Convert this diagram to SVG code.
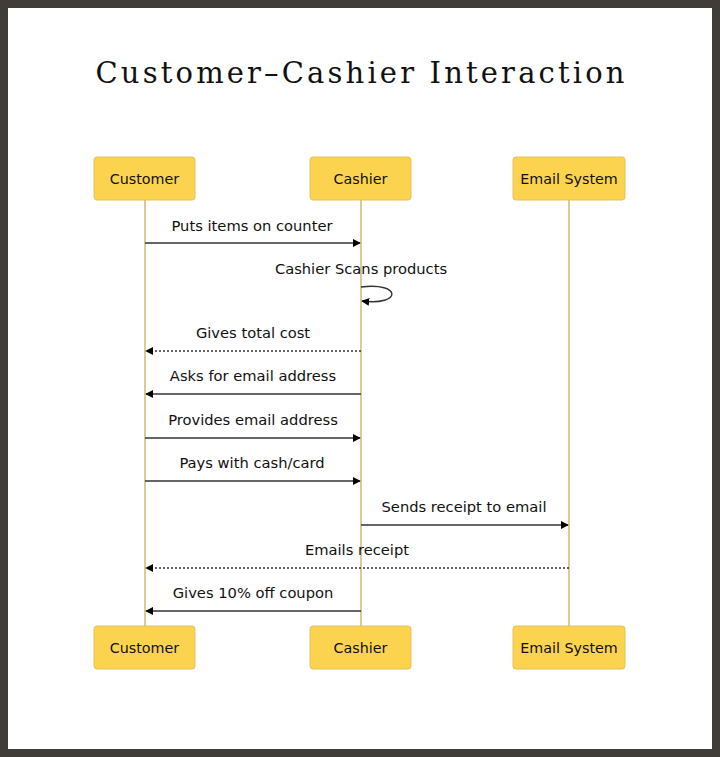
<svg xmlns="http://www.w3.org/2000/svg" width="720" height="757" viewBox="0 0 720 757">
<style>
.actor rect{fill:#fcd34f;stroke:#e2c25a;stroke-width:1}
.actor text{font-family:"DejaVu Sans",sans-serif;font-size:14.3px;fill:#111;text-anchor:middle;dominant-baseline:central}
.life{stroke:#c9ae5f;stroke-width:1.3}
.msg{stroke:#333;stroke-width:1.4;fill:none}
.dot{stroke-dasharray:2 2}
.lbl{font-family:"DejaVu Sans",sans-serif;font-size:14.7px;fill:#111;text-anchor:middle}
</style>
<defs>
<marker id="ah" viewBox="0 0 10 10" refX="9" refY="5" markerWidth="8" markerHeight="8" orient="auto" markerUnits="userSpaceOnUse">
<path d="M0,0 L10,5 L0,10 z" fill="#000"/>
</marker>
</defs>
<rect x="4" y="4" width="712" height="749" fill="#fff" stroke="#403d38" stroke-width="8"/>
<text x="360" y="83" font-family="DejaVu Serif,serif" font-size="29" textLength="529" lengthAdjust="spacing" text-anchor="middle" fill="#111">Customer–Cashier Interaction</text>
<g id="lifelines">
<line class="life" x1="145" y1="200" x2="145" y2="626"/>
<line class="life" x1="361" y1="200" x2="361" y2="626"/>
<line class="life" x1="569" y1="200" x2="569" y2="626"/>
</g>
<g id="actor-customer" class="actor"><rect x="94" y="157" width="101" height="43" rx="3"/><text x="144.5" y="179">Customer</text></g>
<g id="actor-cashier" class="actor"><rect x="310" y="157" width="101" height="43" rx="3"/><text x="360.5" y="179">Cashier</text></g>
<g id="actor-email" class="actor"><rect x="513" y="157" width="112" height="43" rx="3"/><text x="569" y="179">Email System</text></g>
<g id="actor-customer-bottom" class="actor"><rect x="94" y="626" width="101" height="43" rx="3"/><text x="144.5" y="648">Customer</text></g>
<g id="actor-cashier-bottom" class="actor"><rect x="310" y="626" width="101" height="43" rx="3"/><text x="360.5" y="648">Cashier</text></g>
<g id="actor-email-bottom" class="actor"><rect x="513" y="626" width="112" height="43" rx="3"/><text x="569" y="648">Email System</text></g>
<g id="connectors">
<line class="msg" x1="145" y1="243" x2="360" y2="243" marker-end="url(#ah)"/>
<path class="msg" d="M361,287 C402,282 402,306 362,301" marker-end="url(#ah)"/>
<line class="msg dot" x1="361" y1="351" x2="146" y2="351" marker-end="url(#ah)"/>
<line class="msg" x1="361" y1="394" x2="146" y2="394" marker-end="url(#ah)"/>
<line class="msg" x1="145" y1="438" x2="360" y2="438" marker-end="url(#ah)"/>
<line class="msg" x1="145" y1="481" x2="360" y2="481" marker-end="url(#ah)"/>
<line class="msg" x1="361" y1="525" x2="568" y2="525" marker-end="url(#ah)"/>
<line class="msg dot" x1="569" y1="568" x2="146" y2="568" marker-end="url(#ah)"/>
<line class="msg" x1="361" y1="611" x2="146" y2="611" marker-end="url(#ah)"/>
</g>
<g id="labels">
<text class="lbl" x="252" y="231">Puts items on counter</text>
<text class="lbl" x="361" y="274">Cashier Scans products</text>
<text class="lbl" x="253" y="338">Gives total cost</text>
<text class="lbl" x="253" y="381">Asks for email address</text>
<text class="lbl" x="253" y="425">Provides email address</text>
<text class="lbl" x="252" y="468">Pays with cash/card</text>
<text class="lbl" x="464" y="512">Sends receipt to email</text>
<text class="lbl" x="357" y="555">Emails receipt</text>
<text class="lbl" x="253" y="598">Gives 10% off coupon</text>
</g>
</svg>
